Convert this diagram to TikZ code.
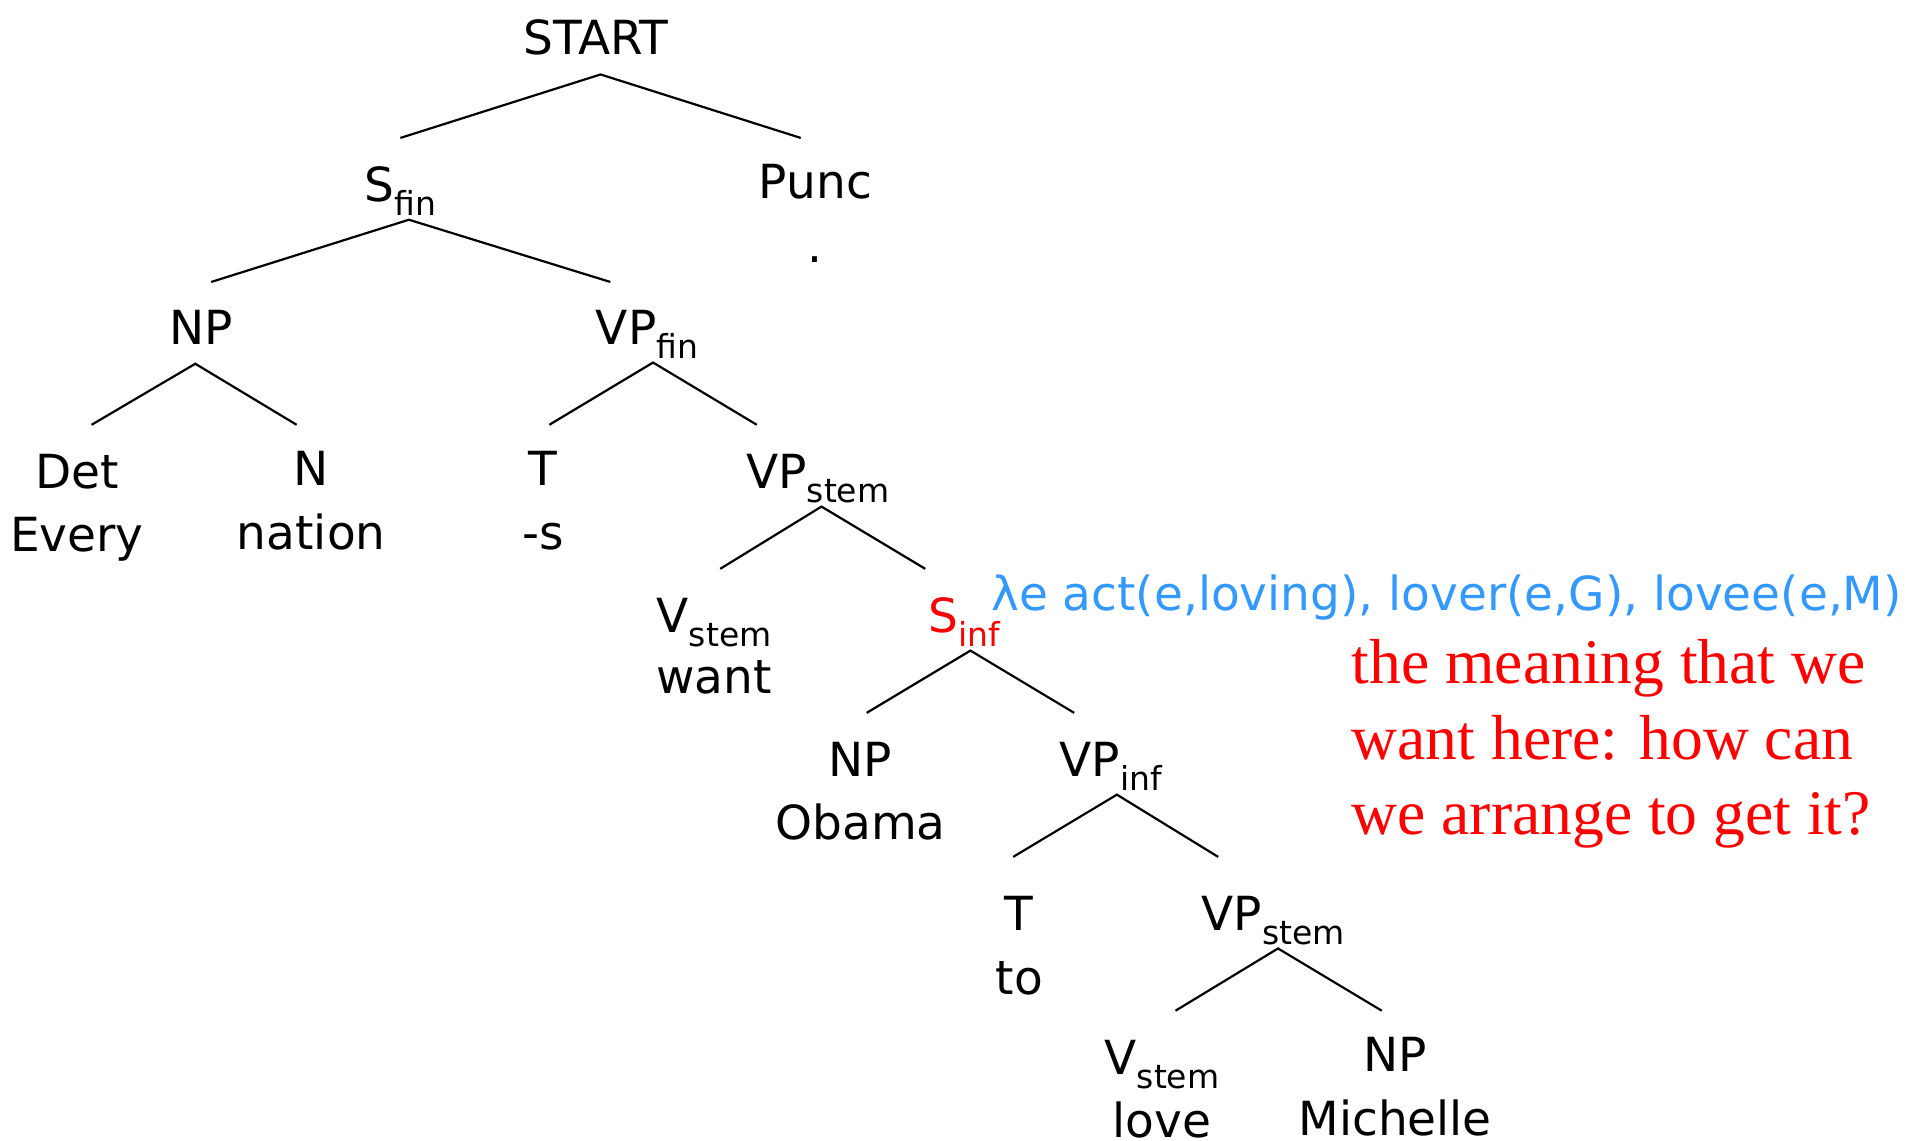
\documentclass[tikz,border=0pt]{standalone}
\usepackage{fontspec}
\setmainfont{DejaVu Sans}
\newfontfamily\notefont{Liberation Serif}
\definecolor{semblue}{RGB}{51,153,255}
\definecolor{notered}{RGB}{255,0,0}
% category subscript
\newcommand\catsub[1]{\raisebox{-0.3em}{\fontsize{16.5pt}{16.5pt}\selectfont #1}}
\tikzset{
  lab/.style={anchor=base, inner sep=0pt, outer sep=0pt, font=\fontsize{23.5pt}{28pt}\selectfont},
  branch/.style={line width=1.1pt},
  note/.style={anchor=base west, inner sep=0pt, text=notered, font=\notefont\fontsize{31.8pt}{37pt}\selectfont},
}
\begin{document}
\begin{tikzpicture}[x=0.61035pt, y=-0.61035pt]
\useasboundingbox (0,0) rectangle (1568,934);

% labels
\node[lab] (start) at (488,45) {START};
\node[lab] (sfin) at (328,165) {S\catsub{fin}};
\node[lab] (punc) at (668,163) {Punc};
\node[lab] (dot) at (668,215) {.};
\node[lab] (np1) at (165,282) {NP};
\node[lab] (vpfin) at (530,282) {VP\catsub{fin}};
\node[lab] (det) at (63,400) {Det};
\node[lab] (every) at (63,452) {Every};
\node[lab] (n) at (255,398) {N};
\node[lab] (nation) at (255,450) {nation};
\node[lab] (t1) at (445,398) {T};
\node[lab] (s) at (445,450) {-s};
\node[lab] (vpstem1) at (670,400) {VP\catsub{stem}};
\node[lab] (vstem1) at (585,518) {V\catsub{stem}};
\node[lab] (want) at (585,568) {want};
\node[lab, text=notered] (sinf) at (790,518) {S\catsub{inf}};
\node[lab] (np2) at (705,636) {NP};
\node[lab] (obama) at (705,688) {Obama};
\node[lab] (vpinf) at (910,636) {VP\catsub{inf}};
\node[lab] (t2) at (835,762) {T};
\node[lab] (to) at (835,815) {to};
\node[lab] (vpstem2) at (1043,762) {VP\catsub{stem}};
\node[lab] (vstem2) at (952,880) {V\catsub{stem}};
\node[lab] (love) at (952,932) {love};
\node[lab] (np3) at (1143,878) {NP};
\node[lab] (michelle) at (1143,930) {Michelle};

% meaning of the infinitival clause
\node[lab, anchor=base west, text=semblue] (sem) at (812,500) {λe act(e,loving), lover(e,G), lovee(e,M)};
\node[note] (note1) at (1107,560) {the meaning that we};
\node[note] (note2) at (1107,622) {want here: how can};
\node[note] (note3) at (1107,684) {we arrange to get it?};

% branch end points
\coordinate (start-h) at (492,61);
\coordinate (sfin-t) at (328,113);
\coordinate (punc-t) at (656,113);
\coordinate (sfin-h) at (335,180);
\coordinate (np1-t) at (173,231);
\coordinate (vpfin-t) at (500,231);
\coordinate (np1-h) at (160,298);
\coordinate (det-t) at (75,348);
\coordinate (n-t) at (243,348);
\coordinate (vpfin-h) at (535,297);
\coordinate (t1-t) at (450,348);
\coordinate (vpstem1-t) at (620,348);
\coordinate (vpstem1-h) at (673,415);
\coordinate (vstem1-t) at (590,466);
\coordinate (sinf-t) at (758,466);
\coordinate (sinf-h) at (795,533);
\coordinate (np2-t) at (710,584);
\coordinate (vpinf-t) at (880,584);
\coordinate (vpinf-h) at (915,651);
\coordinate (t2-t) at (830,702);
\coordinate (vpstem2-t) at (998,702);
\coordinate (vpstem2-h) at (1047,777);
\coordinate (vstem2-t) at (963,828);
\coordinate (np3-t) at (1132,828);

% branches
\draw[branch] (sfin-t) -- (start-h) -- (punc-t);
\draw[branch] (np1-t) -- (sfin-h) -- (vpfin-t);
\draw[branch] (det-t) -- (np1-h) -- (n-t);
\draw[branch] (t1-t) -- (vpfin-h) -- (vpstem1-t);
\draw[branch] (vstem1-t) -- (vpstem1-h) -- (sinf-t);
\draw[branch] (np2-t) -- (sinf-h) -- (vpinf-t);
\draw[branch] (t2-t) -- (vpinf-h) -- (vpstem2-t);
\draw[branch] (vstem2-t) -- (vpstem2-h) -- (np3-t);
\end{tikzpicture}
\end{document}
